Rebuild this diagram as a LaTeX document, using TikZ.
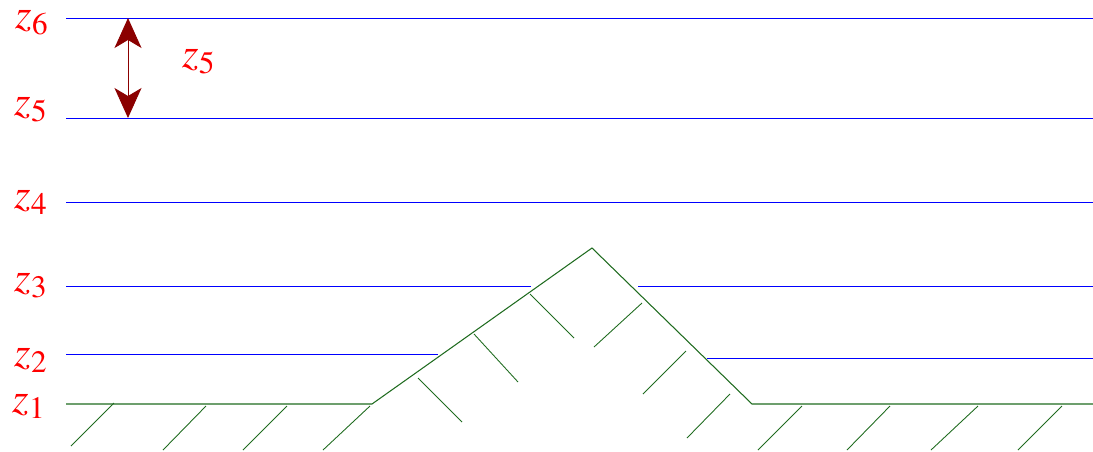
\documentclass[tikz,border=0pt]{standalone}
\usepackage{mathptmx}
\usepackage{tikz}
\usetikzlibrary{arrows.meta}
\definecolor{level}{HTML}{0000FF}
\definecolor{lab}{HTML}{FF0000}
\definecolor{ground}{HTML}{1F6B1F}
\definecolor{gap}{HTML}{8B0000}

\begin{document}
\begin{tikzpicture}[x=0.02cm,y=-0.02cm,
    every node/.style={font=\fontsize{24}{29}\selectfont,text=lab,inner sep=0pt},
    lvl/.style={draw=level,line width=0.45pt},
    soil/.style={draw=ground,line width=0.6pt},
    hatch/.style={draw=ground,line width=0.5pt},
    gaptip/.tip={Stealth[length=0.6cm,width=0.54cm,inset=0.16cm]}]
  \useasboundingbox (0,0) rectangle (1093,451);
  % level labels
  \node[anchor=base east] (z6) at (49,28) {$z_6$};
  \node[anchor=base east] (z5) at (48,115) {$z_5$};
  \node[anchor=base east] (z4) at (48,208) {$z_4$};
  \node[anchor=base east] (z3) at (48,291) {$z_3$};
  \node[anchor=base east] (z2) at (48,366) {$z_2$};
  \node[anchor=base east] (z1) at (46,412) {$z_1$};
  % levels
  \draw[lvl] (66,18) -- (1093,18);
  \draw[lvl] (66,118) -- (1093,118);
  \draw[lvl] (66,202) -- (1093,202);
  \draw[lvl] (66,286.5) -- (531,286.5) (638,286.5) -- (1093,286.5);
  \draw[lvl] (66,354) -- (438,354) (707,358) -- (1093,358);
  % ground and hill
  \coordinate (foot1) at (372,404);
  \coordinate (peak) at (592,248);
  \coordinate (foot2) at (752,404);
  \draw[soil] (66,404) -- (foot1) -- (peak) -- (foot2) -- (1093,404);
  \foreach \x/\y/\u/\v in {114/403/71/446,206/406/163/450,287/406/243/450,370/406/323/450,
      418/378/462/422,474/334/518/382,530/294/574/338,
      642/303/594/347,686/351/643/394,730/394/687/438,
      802/406/758/450,890/406/847/450,978/406/931/450,1062/406/1018/450}
    \draw[hatch] (\x,\y) -- (\u,\v);
  % layer thickness
  \coordinate (top) at (128,18);
  \coordinate (bot) at (128,118);
  \draw[gap,line width=0.5pt,gaptip-gaptip] (top) -- (bot);
  \node[anchor=base west] (dz) at (182,67) {$z_5$};
\end{tikzpicture}
\end{document}
